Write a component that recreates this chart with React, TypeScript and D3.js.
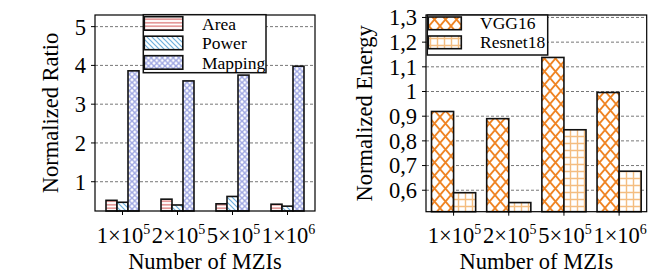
import React from "react";
import * as d3 from "d3";

const categories = ["1e5", "2e5", "5e5", "1e6"];
const catMantissa = ["1", "2", "5", "1"];
const catExponent = ["5", "5", "5", "6"];

const leftSeries = ["Area", "Power", "Mapping"];
const areaValues = [0.52, 0.55, 0.43, 0.42];
const powerValues = [0.47, 0.4, 0.62, 0.37];
const mappingValues = [3.86, 3.6, 3.75, 3.98];
const leftTicks = [1, 2, 3, 4, 5];

const rightSeries = ["VGG16", "Resnet18"];
const vggValues = [0.919, 0.89, 1.138, 0.996];
const resnetValues = [0.59, 0.55, 0.845, 0.677];
const rightTicks = [0.6, 0.7, 0.8, 0.9, 1.0, 1.1, 1.2, 1.3];

const FONT = "'Liberation Serif', 'Times New Roman', serif";

const leftData = [areaValues, powerValues, mappingValues];
const rightData = [vggValues, resnetValues];
const leftFills = ["url(#pArea)", "url(#pPower)", "url(#pMap)"];
const rightFills = ["url(#pVgg)", "url(#pRes)"];

function fmtComma(v: number) {
  const s = d3.format("~g")(+v.toFixed(1));
  return s.replace(".", ",");
}

function Panel(props: {
  x0: number; x1: number; y0: number; y1: number;
  domain: [number, number]; ticks: number[]; tickFmt: (v: number) => string;
  series: string[]; data: number[][]; fills: string[]; outerPad: number;
  ylabel: string; ylabelX: number;
  legend: { x: number; y: number; w: number; h: number; sw: number; sh: number; step: number; textX: number; fontSize: number };
}) {
  const { x0, x1, y0, y1, domain, ticks, tickFmt, series, data, fills, outerPad, ylabel, ylabelX, legend } = props;
  const x = d3.scaleBand<string>().domain(categories).range([x0, x1]).padding(0);
  const xi = d3.scaleBand<string>().domain(series).range([0, x.bandwidth()]).paddingInner(0).paddingOuter(outerPad);
  const y = d3.scaleLinear().domain(domain).range([y1, y0]);
  return (
    <g>
      {ticks.map((t) => (
        <g key={"g" + t}>
          <line x1={x0} x2={x1} y1={y(t)} y2={y(t)} stroke="#777" strokeWidth={1} strokeDasharray="3,2" />
          <line x1={x0 - 4} x2={x0} y1={y(t)} y2={y(t)} stroke="#000" strokeWidth={1} />
          <text x={x0 - 9} y={y(t)} dy="0.35em" textAnchor="end" fontSize={22.5} fontFamily={FONT}>{tickFmt(t)}</text>
        </g>
      ))}
      {categories.map((c, ci) => (
        <g key={c}>
          {series.map((s, si) => {
            const v = data[si][ci];
            const bx = (x(c) as number) + (xi(s) as number);
            return (
              <rect key={s} x={bx} y={y(v)} width={xi.bandwidth()} height={y1 - y(v)}
                fill={fills[si]} stroke="#111" strokeWidth={1.6} />
            );
          })}
          <line x1={(x(c) as number) + x.bandwidth() / 2} x2={(x(c) as number) + x.bandwidth() / 2} y1={y1} y2={y1 + 4} stroke="#000" />
          <text x={(x(c) as number) + x.bandwidth() / 2 + 1} y={243} textAnchor="middle" fontSize={22.5} fontFamily={FONT}>
            {catMantissa[ci]}×10
            <tspan dy={-9} fontSize={14}>{catExponent[ci]}</tspan>
          </text>
        </g>
      ))}
      <rect x={x0} y={y0} width={x1 - x0} height={y1 - y0} fill="none" stroke="#000" strokeWidth={1.2} />
      <g>
        <rect x={legend.x} y={legend.y} width={legend.w} height={legend.h} fill="#fff" stroke="#111" strokeWidth={1.5} />
        {series.map((s, si) => {
          const sy = legend.y + 2 + si * legend.step;
          return (
            <g key={s}>
              <rect x={legend.x + 1} y={sy} width={legend.sw} height={legend.sh} fill={fills[si]} stroke="#111" strokeWidth={1.6} />
              <text x={legend.textX} y={sy + legend.sh / 2} dy="0.35em" fontSize={legend.fontSize} fontFamily={FONT}>{s}</text>
            </g>
          );
        })}
      </g>
      <text transform={`translate(${ylabelX},${(y0 + y1) / 2}) rotate(-90)`} textAnchor="middle" fontSize={22.5} fontFamily={FONT}>{ylabel}</text>
      <text x={(x0 + x1) / 2} y={269} textAnchor="middle" fontSize={22.5} fontFamily={FONT}>Number of MZIs</text>
    </g>
  );
}

export default function App() {
  return (
    <svg width={670} height={275} style={{ position: "absolute", left: 0, top: 0, background: "#fff" }}>
      <defs>
        <pattern id="pArea" patternUnits="userSpaceOnUse" width={6} height={3.5}>
          <rect width={6} height={3.5} fill="#fff" />
          <line x1={0} x2={6} y1={1.75} y2={1.75} stroke="#d45c5c" strokeWidth={1.1} />
        </pattern>
        <pattern id="pPower" patternUnits="userSpaceOnUse" width={5} height={5}>
          <rect width={5} height={5} fill="#fff" />
          <path d="M-1,-1 L6,6 M-1,4 L1,6 M4,-1 L6,1" stroke="#6fb0dc" strokeWidth={1.2} />
        </pattern>
        <pattern id="pMap" patternUnits="userSpaceOnUse" width={5.5} height={5.5}>
          <rect width={5.5} height={5.5} fill="#fff" />
          <path d="M0,0 L5.5,5.5 M5.5,0 L0,5.5" stroke="#9ea6e2" strokeWidth={1.4} />
        </pattern>
        <pattern id="pVgg" patternUnits="userSpaceOnUse" width={11} height={13}>
          <rect width={11} height={13} fill="#fff" />
          <path d="M0,0 L11,13 M11,0 L0,13" stroke="#ef8424" strokeWidth={1.8} />
        </pattern>
        <pattern id="pRes" patternUnits="userSpaceOnUse" width={7} height={7}>
          <rect width={7} height={7} fill="#fff" />
          <path d="M3.5,0 L3.5,7 M0,3.5 L7,3.5" stroke="#f4bd80" strokeWidth={1.4} />
        </pattern>
      </defs>
      <Panel x0={95} x1={315} y0={15} y1={211} domain={[0.245, 5.3]} ticks={leftTicks}
        tickFmt={(v) => String(v)} series={leftSeries} data={leftData} fills={leftFills} outerPad={1}
        ylabel="Normalized Ratio" ylabelX={58}
        legend={{ x: 143.3, y: 14.7, w: 122.7, h: 58, sw: 38.5, sh: 13.5, step: 19.5, textX: 202, fontSize: 17.5 }} />
      <Panel x0={426} x1={646.7} y0={15} y1={211.7} domain={[0.513, 1.31]} ticks={rightTicks}
        tickFmt={fmtComma} series={rightSeries} data={rightData} fills={rightFills} outerPad={0.25}
        ylabel="Normalized Energy" ylabelX={372}
        legend={{ x: 427.3, y: 15, w: 120.4, h: 40, sw: 33, sh: 12.7, step: 19, textX: 480, fontSize: 17.5 }} />
    </svg>
  );
}
